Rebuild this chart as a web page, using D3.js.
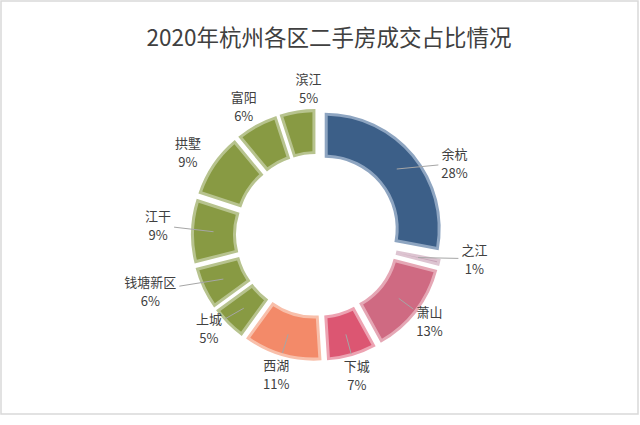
<!DOCTYPE html>
<html>
<head>
<meta charset="utf-8">
<script src="https://cdn.jsdelivr.net/npm/d3@7"></script>
<style>
  html, body { margin: 0; padding: 0; background: #fff; }
  svg { display: block; }
  text { font-family: "Noto Sans CJK SC", "Noto Sans", sans-serif; }
</style>
</head>
<body>
<svg id="chart" width="640" height="425"></svg>
<script>
// ---- data ----
const title = "2020年杭州各区二手房成交占比情况";
const districts = ["余杭", "之江", "萧山", "下城", "西湖", "上城", "钱塘新区", "江干", "拱墅", "富阳", "滨江"];
const shares = [28, 1, 13, 7, 11, 5, 6, 9, 9, 6, 5];
const fillColors = ["#3c5f88", "#c6a2b6", "#cf6a82", "#dc5672", "#f38a69", "#889a43", "#889a43", "#889a43", "#889a43", "#889a43", "#889a43"];
const edgeColors = ["#8ea5c1", "#ddc4d1", "#e5a7b5", "#eda3b2", "#f8bfaa", "#b7c38e", "#b7c38e", "#b7c38e", "#b7c38e", "#b7c38e", "#b7c38e"];
const withLeader = ["余杭", "之江", "萧山", "下城", "西湖", "上城", "钱塘新区", "江干"];
// label nudges (layout only)
const labelNudge = {
  "余杭": [22, 24], "之江": [11, -9], "萧山": [-6, -6], "下城": [-2, -4], "西湖": [1, -5],
  "上城": [-2, -13], "钱塘新区": [-31, -8], "江干": [-9, -5], "拱墅": [-5, 1], "富阳": [-1, 2], "滨江": [15, 1]
};

// ---- layout ----
const svg = d3.select("#chart");
const cx = 317, cy = 235;
const rIn = 71, rOut = 116, explode = 10, inset = 3, labelR = 150;

svg.append("rect").attr("x", 1).attr("y", 1).attr("width", 637).attr("height", 413)
  .attr("fill", "#fff").attr("stroke", "#d9d9d9").attr("stroke-width", 1.5);

svg.append("text")
  .attr("x", 329).attr("y", 46)
  .attr("text-anchor", "middle")
  .attr("font-size", 22.5)
  .attr("fill", "#404040")
  .text(title);

const data = districts.map((d, i) => ({ name: d, value: shares[i], fill: fillColors[i], edge: edgeColors[i] }));
const pie = d3.pie().value(d => d.value).sort(null).startAngle(0).endAngle(2 * Math.PI);
const arcs = pie(data);

const outerArc = d3.arc().innerRadius(rIn).outerRadius(rOut);
const innerArc = d3.arc().innerRadius(rIn + inset).outerRadius(rOut - inset)
  .padRadius(100).padAngle(2 * inset / 100);

const g = svg.append("g").attr("transform", `translate(${cx},${cy})`);

const mid = a => (a.startAngle + a.endAngle) / 2;
const dir = a => [Math.sin(mid(a)), -Math.cos(mid(a))];

const slices = g.selectAll("g.slice").data(arcs).enter().append("g")
  .attr("class", "slice")
  .attr("transform", a => { const [ux, uy] = dir(a); return `translate(${ux * explode},${uy * explode})`; });

slices.append("path").attr("d", outerArc).attr("fill", a => a.data.edge);
slices.append("path").attr("d", innerArc).attr("fill", a => a.data.fill);

// labels
const lineH = 19, fs = 13;
const labels = arcs.map(a => {
  const [ux, uy] = dir(a);
  const nd = labelNudge[a.data.name] || [0, 0];
  return { a, x: ux * labelR + nd[0], y: uy * labelR + nd[1], pct: a.data.value + "%" };
});

const lg = g.append("g");
labels.forEach(l => {
  const t1 = lg.append("text").attr("x", l.x).attr("y", l.y - lineH / 2)
    .attr("text-anchor", "middle").attr("dominant-baseline", "central")
    .attr("font-size", fs).attr("fill", "#404040").text(l.a.data.name);
  const t2 = lg.append("text").attr("x", l.x).attr("y", l.y + lineH / 2)
    .attr("text-anchor", "middle").attr("dominant-baseline", "central")
    .attr("font-size", fs).attr("fill", "#404040").text(l.pct);
  const w = Math.max(t1.node().getComputedTextLength(), t2.node().getComputedTextLength());
  l.hw = w / 2 + 3;
  l.hh = lineH + 2;
});

// leader lines
labels.filter(l => withLeader.includes(l.a.data.name)).forEach(l => {
  const [ux, uy] = dir(l.a);
  const rs = (rIn + rOut) / 2 + explode;
  const sx = ux * rs, sy = uy * rs;
  const dx = l.x - sx, dy = l.y - sy;
  const tx = Math.abs(dx) > 0 ? (Math.abs(dx) - l.hw) / Math.abs(dx) : Infinity;
  const ty = Math.abs(dy) > 0 ? (Math.abs(dy) - l.hh) / Math.abs(dy) : Infinity;
  const t = Math.max(0, Math.min(Math.max(tx, ty), 1));
  lg.append("line").attr("x1", sx).attr("y1", sy).attr("x2", sx + dx * t).attr("y2", sy + dy * t)
    .attr("stroke", "#a6a6a6").attr("stroke-width", 1);
});
</script>
</body>
</html>
